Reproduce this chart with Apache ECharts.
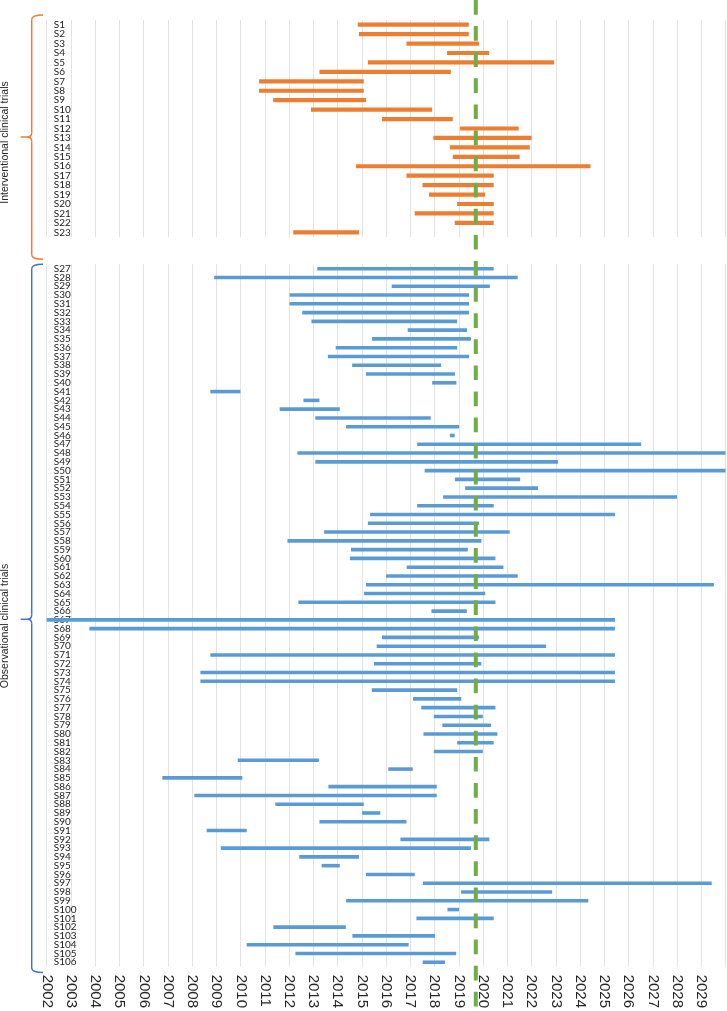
<!DOCTYPE html>
<html>
<head>
<meta charset="utf-8">
<script src="https://cdn.jsdelivr.net/npm/echarts@6/dist/echarts.min.js"></script>
<style>
html,body{margin:0;padding:0;background:#fff;}
#chart{width:727px;height:1011px;}
</style>
</head>
<body>
<div id="chart"></div>
<script>
// ---------- DATA ----------
const yearMin = 2002;
const yearMax = 2030;
const cutoffYear = 2019.7;

const groupNames = ['Interventional clinical trials', 'Observational clinical trials'];

const interventionalLabels = ['S1','S2','S3','S4','S5','S6','S7','S8','S9','S10','S11','S12','S13','S14','S15','S16','S17','S18','S19','S20','S21','S22','S23'];
const interventionalStart = [2014.83,2014.88,2016.84,2018.51,2015.25,2013.25,2010.76,2010.76,2011.34,2012.90,2015.83,2019.05,2017.95,2018.63,2018.75,2014.76,2016.84,2017.50,2017.77,2018.93,2017.18,2018.83,2012.17];
const interventionalEnd   = [2019.41,2019.41,2019.83,2020.25,2022.93,2018.67,2015.08,2015.08,2015.17,2017.90,2018.75,2021.47,2022.00,2021.93,2021.51,2024.43,2020.44,2020.44,2020.08,2020.44,2020.44,2020.44,2014.88];

const observationalLabels = [];
for (let i = 27; i <= 106; i++) observationalLabels.push('S' + i);
const observationalStart = [
  2013.16,2008.91,2016.23,2012.02,2012.02,2012.54,2012.92,2016.89,2015.42,2013.92,
  2013.60,2014.60,2015.17,2017.90,2008.75,2012.59,2011.61,2013.08,2014.35,2018.63,
  2017.28,2012.34,2013.08,2017.59,2018.84,2019.26,2018.35,2017.28,2015.34,2015.25,
  2013.44,2011.93,2014.55,2014.51,2016.85,2016.00,2015.17,2015.09,2012.38,2017.87,
  2002.00,2003.76,2015.83,2015.61,2008.75,2015.50,2008.34,2008.34,2015.41,2017.11,
  2017.45,2017.97,2018.32,2017.54,2018.93,2017.97,2009.88,2016.09,2006.77,2013.62,
  2008.09,2011.43,2015.01,2013.25,2008.60,2016.59,2009.18,2012.42,2013.34,2015.17,
  2017.52,2019.09,2014.35,2018.53,2017.25,2011.35,2014.61,2010.25,2012.26,2017.51
];
const observationalEnd = [
  2020.44,2021.43,2020.28,2019.42,2019.42,2019.42,2018.93,2019.34,2019.50,2018.93,
  2019.42,2018.27,2018.84,2018.90,2009.99,2013.25,2014.09,2017.84,2019.01,2018.83,
  2026.52,2030.00,2023.09,2030.00,2021.53,2022.27,2028.00,2020.44,2025.44,2019.83,
  2021.10,2019.93,2019.37,2020.51,2020.84,2021.43,2029.52,2020.09,2020.51,2019.33,
  2025.44,2025.44,2019.83,2022.60,2025.44,2019.93,2025.44,2025.44,2018.93,2019.10,
  2020.51,2019.99,2020.33,2020.59,2020.44,2019.99,2013.23,2017.10,2010.07,2018.09,
  2018.09,2015.08,2015.76,2016.84,2010.25,2020.26,2019.50,2014.88,2014.09,2017.18,
  2029.43,2022.85,2024.34,2019.01,2020.44,2014.34,2018.02,2016.93,2018.89,2018.43
];

// ---------- STYLE / LAYOUT ----------
const W = 727, H = 1011;
const gridLeft = 46.7, gridRight = 1.5;
const grid1Top = 20, grid1Height = 217;
const grid2Top = 264.3, grid2Height = 707.4;
const orange = '#ED7D31', blue = '#5B9BD5', green = '#70AD47';
const braceOrange = '#ED7D31', braceBlue = '#4472C4';
const gridColor = '#e3e3e3';
const labelFont = 'Lato, "Liberation Sans", Arial, sans-serif';

function toData(starts, ends) {
  return starts.map((s, i) => [i, s, ends[i]]);
}

function makeRender(color, thick) {
  return function (params, api) {
    const cat = api.value(0);
    const p0 = api.coord([api.value(1), cat]);
    const p1 = api.coord([api.value(2), cat]);
    return {
      type: 'rect',
      shape: { x: p0[0], y: p0[1] - thick / 2, width: p1[0] - p0[0], height: thick },
      style: { fill: color }
    };
  };
}

const chart = echarts.init(document.getElementById('chart'), null, { renderer: 'canvas', width: W, height: H });

function xAxisCfg(gridIndex, showLabels) {
  return {
    type: 'value', gridIndex: gridIndex, min: yearMin, max: yearMax, interval: 1,
    axisLine: { show: false }, axisTick: { show: false },
    splitLine: { show: true, lineStyle: { color: gridColor, width: 1 } },
    axisLabel: {
      show: showLabels, rotate: -90, margin: 8, fontSize: 15, color: '#262626',
      fontFamily: '"Liberation Sans", Arial, sans-serif',
      formatter: v => (v >= yearMax ? '' : String(v))
    }
  };
}
function yAxisCfg(gridIndex, labels) {
  return {
    type: 'category', gridIndex: gridIndex, data: labels, inverse: true,
    axisLine: { show: false }, axisTick: { show: false }, splitLine: { show: false },
    axisLabel: { inside: true, margin: 7, interval: 0, fontSize: 10, color: '#1a1a1a', fontFamily: labelFont }
  };
}

chart.setOption({
  animation: false,
  backgroundColor: '#fff',
  grid: [
    { left: gridLeft, right: gridRight, top: grid1Top, height: grid1Height, containLabel: false },
    { left: gridLeft, right: gridRight, top: grid2Top, height: grid2Height, containLabel: false }
  ],
  xAxis: [xAxisCfg(0, false), xAxisCfg(1, true)],
  yAxis: [yAxisCfg(0, interventionalLabels), yAxisCfg(1, observationalLabels)],
  series: [
    {
      type: 'custom', name: groupNames[0], xAxisIndex: 0, yAxisIndex: 0,
      renderItem: makeRender(orange, 4.2), encode: { x: [1, 2], y: 0 },
      data: toData(interventionalStart, interventionalEnd), z: 2
    },
    {
      type: 'custom', name: groupNames[1], xAxisIndex: 1, yAxisIndex: 1,
      renderItem: makeRender(blue, 3.6), encode: { x: [1, 2], y: 0 },
      data: toData(observationalStart, observationalEnd), z: 2
    }
  ]
});

// ---------- ANNOTATIONS ----------
const cutX = chart.convertToPixel({ xAxisIndex: 1 }, cutoffYear);

function brace(top, bottom, mid, color) {
  const xv = 31.7, xr = 43, xl = 20.7, r = 4.5;
  const st = { stroke: color, lineWidth: 1.5, fill: null };
  return [
    { type: 'bezierCurve', shape: { x1: xr, y1: top, x2: xv, y2: top + r, cpx1: xv, cpy1: top }, style: st, z: 50 },
    { type: 'line', shape: { x1: xv, y1: top + r, x2: xv, y2: mid - r }, style: st, z: 50 },
    { type: 'bezierCurve', shape: { x1: xv, y1: mid - r, x2: xv - r, y2: mid, cpx1: xv, cpy1: mid }, style: st, z: 50 },
    { type: 'line', shape: { x1: xv - r, y1: mid, x2: xl, y2: mid }, style: st, z: 50 },
    { type: 'bezierCurve', shape: { x1: xv - r, y1: mid, x2: xv, y2: mid + r, cpx1: xv, cpy1: mid }, style: st, z: 50 },
    { type: 'line', shape: { x1: xv, y1: mid + r, x2: xv, y2: bottom - r }, style: st, z: 50 },
    { type: 'bezierCurve', shape: { x1: xv, y1: bottom - r, x2: xr, y2: bottom, cpx1: xv, cpy1: bottom }, style: st, z: 50 }
  ];
}

function groupText(text, cy) {
  return {
    type: 'text', x: 5.5, y: cy, rotation: Math.PI / 2, z: 50,
    style: {
      text: text, fill: '#262626', fontSize: 10.5,
      fontFamily: '"Liberation Sans", Arial, sans-serif',
      align: 'center', verticalAlign: 'middle'
    }
  };
}

const elements = []
  .concat(brace(15, 259.3, 137, braceOrange))
  .concat(brace(264.3, 972.5, 619.3, braceBlue))
  .concat([
    groupText(groupNames[0], 142.5),
    groupText(groupNames[1], 626),
    {
      type: 'line', z: 100,
      shape: { x1: cutX, y1: 0, x2: cutX, y2: H },
      style: { stroke: green, lineWidth: 4, lineDash: [14.7, 11.4] }
    }
  ]);

chart.setOption({ graphic: { elements: elements } });
</script>
</body>
</html>
